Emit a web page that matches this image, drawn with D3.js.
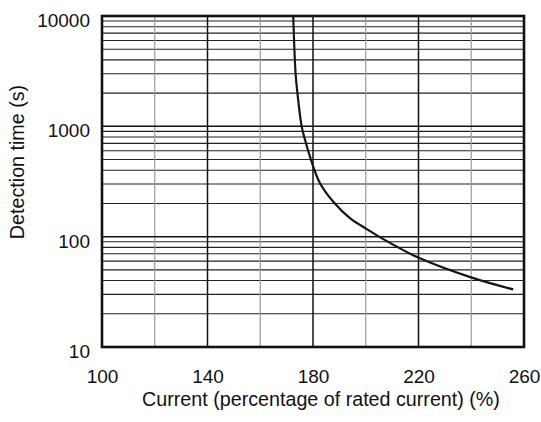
<!DOCTYPE html>
<html>
  <head>
    <meta charset="utf-8" />
    <title>Detection time</title>
    <script src="https://d3js.org/d3.v7.min.js"></script>
    <style>
      body { margin: 0; background: #fff; }
      text { font-family: "Liberation Sans", Arial, sans-serif; fill: #111; }
    </style>
  </head>
  <body>
    <svg id="viz"></svg>
    <script>
        // curve: current (%) vs detection time (s)
        var current = [172.5, 173.4, 174.1, 175.7, 177.0, 179.9, 182.65, 187.7, 194.0, 200.4, 206.0, 219.9, 240.2, 255.9];
        var seconds = [10000, 3000, 2000, 1000, 752, 446, 305, 207, 147, 117, 97, 64.6, 42.5, 33.3];
        var xTicks = [100, 140, 180, 220, 260];
        var xMinor = [120, 160, 200, 240];
        var yTicks = [10, 100, 1000, 10000];

        var width = 541, height = 422;
        var margin = {left: 102, right: 17, top: 16, bottom: 75};

        var svg = d3.select("#viz")
            .attr("width", width)
            .attr("height", height);

        var x = d3.scaleLinear().domain([100, 260]).range([margin.left, width - margin.right]);
        var y = d3.scaleLog().domain([10, 10000]).range([height - margin.bottom, margin.top]);

        var grid = svg.append("g");

        // minor horizontal lines (2..9 in every decade)
        var minorY = [];
        yTicks.slice(0, 3).forEach(function(d) {
            for (var k = 2; k <= 9; k++) minorY.push(d * k);
        });

        grid.selectAll("line.hmin")
            .data(minorY)
            .enter().append("line")
            .attr("x1", x(100)).attr("x2", x(260))
            .attr("y1", function(d) { return y(d); })
            .attr("y2", function(d) { return y(d); })
            .style("stroke", "#222")
            .style("stroke-width", 1.1);

        grid.selectAll("line.vmin")
            .data(xMinor)
            .enter().append("line")
            .attr("x1", function(d) { return x(d); })
            .attr("x2", function(d) { return x(d); })
            .attr("y1", y(10)).attr("y2", y(10000))
            .style("stroke", "#9a9a9a")
            .style("stroke-width", 1.2);

        grid.selectAll("line.vmaj")
            .data(xTicks)
            .enter().append("line")
            .attr("x1", function(d) { return x(d); })
            .attr("x2", function(d) { return x(d); })
            .attr("y1", y(10)).attr("y2", y(10000))
            .style("stroke", "#111")
            .style("stroke-width", 1.5);

        grid.selectAll("line.hmaj")
            .data(yTicks)
            .enter().append("line")
            .attr("x1", x(100)).attr("x2", x(260))
            .attr("y1", function(d) { return y(d); })
            .attr("y2", function(d) { return y(d); })
            .style("stroke", "#111")
            .style("stroke-width", 1.5);

        // curve
        var pts = current.map(function(c, i) { return [c, seconds[i]]; });
        var line = d3.line()
            .x(function(d) { return x(d[0]); })
            .y(function(d) { return y(d[1]); })
            .curve(d3.curveCatmullRom.alpha(0.5));

        svg.append("path")
            .datum(pts)
            .attr("d", line)
            .attr("fill", "none")
            .style("stroke", "#151515")
            .style("stroke-width", 2.2);

        // frame
        svg.append("rect")
            .attr("x", x(100)).attr("y", y(10000))
            .attr("width", x(260) - x(100))
            .attr("height", y(10) - y(10000))
            .attr("fill", "none")
            .style("stroke", "#111")
            .style("stroke-width", 2.6);

        // axes (labels only)
        var xAxis = d3.axisBottom(x).tickValues(xTicks).tickSize(0).tickPadding(23);
        var gx = svg.append("g")
            .attr("transform", "translate(0," + y(10) + ")")
            .call(xAxis);
        gx.select(".domain").remove();
        gx.selectAll("text").style("font-size", "19px").attr("font-family", null);

        var yAxis = d3.axisLeft(y).tickValues(yTicks).tickFormat(d3.format("d")).tickSize(0).tickPadding(12);
        var gy = svg.append("g")
            .attr("transform", "translate(" + x(100) + ",0)")
            .call(yAxis);
        gy.select(".domain").remove();
        gy.selectAll("text").style("font-size", "19px").attr("dy", "0.55em").attr("font-family", null);

        svg.append("text")
            .attr("x", 321)
            .attr("y", 406)
            .attr("text-anchor", "middle")
            .style("font-size", "19.7px")
            .text("Current (percentage of rated current) (%)");

        svg.append("text")
            .attr("transform", "translate(24,162) rotate(-90)")
            .attr("text-anchor", "middle")
            .style("font-size", "19.7px")
            .text("Detection time (s)");
    </script>
  </body>
</html>
